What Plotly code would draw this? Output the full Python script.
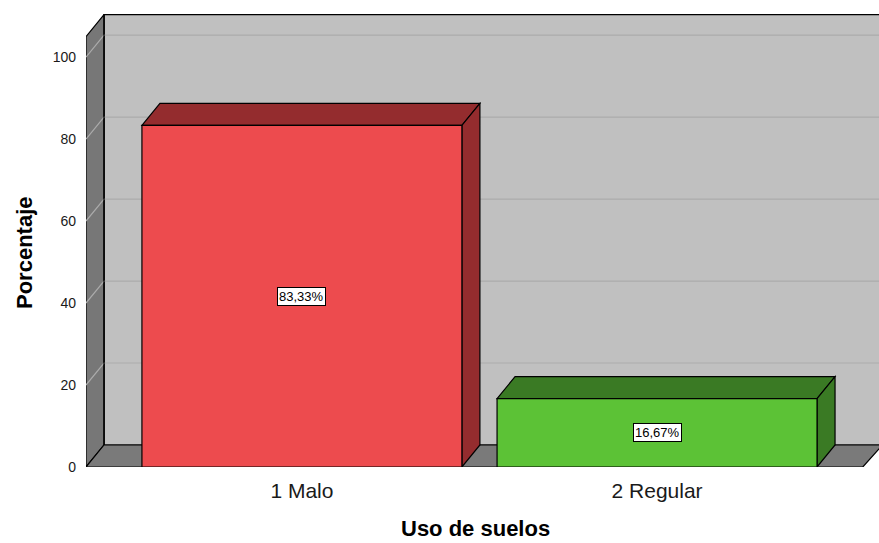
import plotly.graph_objects as go

# ---- data ----
categories = ["1 Malo", "2 Regular"]
positions = [1, 2]
values = [83.33, 16.67]
front_colors = ["#ED4B4E", "#5CC236"]
dark_colors = ["#942C2E", "#3A7A24"]
y_ticks = [0, 20, 40, 60, 80, 100]

# ---- geometry (in axis units) ----
bar_w = 0.901
dx = 0.0507          # depth offset x
dy = 5.37            # depth offset y
x_lo, x_hi = 0.392, 2.625
wall_top = 105
y_hi = wall_top + dy + 0.15

FONT = "Liberation Sans, Arial, sans-serif"

shapes = []
# back wall
shapes.append(dict(type="rect", xref="x", yref="y", x0=x_lo + dx, x1=x_hi + 0.05, y0=dy, y1=wall_top + dy,
                   fillcolor="#C0C0C0", line=dict(color="black", width=1.2), layer="below"))
# left wall
shapes.append(dict(type="path", xref="x", yref="y",
                   path=f"M {x_lo},0 L {x_lo+dx},{dy} L {x_lo+dx},{wall_top+dy} L {x_lo},{wall_top} Z",
                   fillcolor="#777777", line=dict(color="black", width=1.2), layer="below"))
# floor
shapes.append(dict(type="path", xref="x", yref="y",
                   path=f"M {x_lo},0 L {x_hi-dx+0.005},0 L {x_hi+0.01},{dy} L {x_lo+dx},{dy} Z",
                   fillcolor="#7A7A7A", line=dict(color="black", width=1.2), layer="below"))
# gridlines on left wall and back wall
for t in y_ticks[1:]:
    shapes.append(dict(type="path", xref="x", yref="y",
                       path=f"M {x_lo},{t} L {x_lo+dx},{t+dy} L {x_hi+0.05},{t+dy}",
                       line=dict(color="#ABABAB", width=1.2), layer="below"))
# redraw back wall left edge
shapes.append(dict(type="line", xref="x", yref="y", x0=x_lo + dx, x1=x_lo + dx, y0=dy, y1=wall_top + dy,
                   line=dict(color="black", width=1.2), layer="below"))

# bar top and side faces
for p, v, dc in zip(positions, values, dark_colors):
    l, r = p - bar_w / 2, p + bar_w / 2
    shapes.append(dict(type="path", xref="x", yref="y",
                       path=f"M {l},{v} L {l+dx},{v+dy} L {r+dx},{v+dy} L {r},{v} Z",
                       fillcolor=dc, line=dict(color="black", width=1.2), layer="below"))
    shapes.append(dict(type="path", xref="x", yref="y",
                       path=f"M {r},0 L {r+dx},{dy} L {r+dx},{v+dy} L {r},{v} Z",
                       fillcolor=dc, line=dict(color="black", width=1.2), layer="below"))

fig = go.Figure()
fig.add_trace(go.Bar(x=positions, y=values, width=bar_w,
                     marker=dict(color=front_colors, line=dict(color="black", width=1.2)),
                     hoverinfo="skip"))

annotations = []
for p, v in zip(positions, values):
    annotations.append(dict(x=p, y=v / 2, xref="x", yref="y",
                            text=f"{v:.2f}".replace(".", ",") + "%", showarrow=False,
                            font=dict(family=FONT, size=13, color="black"),
                            bgcolor="white", bordercolor="black", borderwidth=1, borderpad=1))
annotations.append(dict(x=0, y=0.5, xref="paper", yref="paper", xshift=-76, yshift=-12,
                        text="<b>Porcentaje</b>", textangle=-90, showarrow=False,
                        font=dict(family=FONT, size=22, color="black")))
annotations.append(dict(x=0.4906, y=0, xref="paper", yref="paper", yshift=-75, text="<b>Uso de suelos</b>",
                        showarrow=False, yanchor="bottom", borderpad=0,
                        font=dict(family=FONT, size=22, color="black")))

fig.update_layout(
    width=879, height=543,
    margin=dict(l=86, r=0, t=14, b=76),
    paper_bgcolor="white", plot_bgcolor="white",
    showlegend=False,
    shapes=shapes, annotations=annotations,
    xaxis=dict(range=[x_lo, x_hi], tickvals=positions, ticktext=categories, showgrid=False,
               zeroline=False, showline=False, ticks="", ticklabelstandoff=9,
               tickfont=dict(family=FONT, size=21, color="#1A1A1A")),
    yaxis=dict(range=[0, y_hi], tickvals=y_ticks, showgrid=False, zeroline=False, showline=False,
               ticks="", ticklabelstandoff=9,
               tickfont=dict(family=FONT, size=14, color="#1A1A1A")),
)

fig.write_html("out.html", config={"displayModeBar": False},
               post_script="document.body.style.margin='0px';")
